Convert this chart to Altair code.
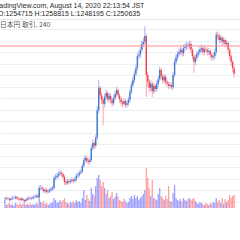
import altair as alt
import pandas as pd

# ---- data (prices in thousand JPY, 4h candles from 2020-07-17 16:00 JST) ----
first_open = 984
closes = [985, 986, 985, 983, 985, 986, 986, 988, 986, 985,
          983, 985, 983, 981, 983, 985, 986, 985, 986, 988,
          988, 990, 988, 1004, 1004, 1002, 998, 1000, 997, 998,
          1000, 1002, 1004, 1021, 1023, 1025, 1028, 1030, 1028, 1023,
          1014, 1012, 1016, 1014, 1016, 1018, 1016, 1019, 1025, 1026,
          1030, 1032, 1042, 1052, 1056, 1051, 1049, 1052, 1073, 1082,
          1077, 1091, 1139, 1178, 1165, 1157, 1150, 1162, 1169, 1158,
          1164, 1157, 1151, 1160, 1167, 1174, 1165, 1158, 1153, 1150,
          1155, 1148, 1151, 1157, 1171, 1183, 1191, 1202, 1212, 1233,
          1235, 1244, 1254, 1258, 1268, 1200, 1188, 1178, 1185, 1172,
          1181, 1176, 1185, 1193, 1209, 1198, 1191, 1197, 1188, 1185,
          1181, 1183, 1179, 1200, 1223, 1231, 1237, 1240, 1244, 1238,
          1247, 1249, 1252, 1251, 1254, 1244, 1233, 1223, 1230, 1237,
          1240, 1244, 1247, 1240, 1245, 1244, 1240, 1242, 1235, 1231,
          1233, 1240, 1270, 1268, 1261, 1265, 1258, 1261, 1254, 1256,
          1244, 1233, 1223, 1212, 1202]
highs = [988, 989, 988, 987, 987, 990, 989, 991, 990, 988,
         987, 988, 987, 985, 986, 988, 990, 989, 989, 991,
         992, 994, 992, 1008, 1009, 1007, 1005, 1004, 1003, 1002,
         1004, 1006, 1008, 1025, 1028, 1030, 1033, 1036, 1034, 1031,
         1026, 1018, 1020, 1019, 1020, 1022, 1021, 1023, 1029, 1031,
         1034, 1036, 1046, 1057, 1061, 1059, 1055, 1057, 1078, 1088,
         1086, 1096, 1146, 1192, 1181, 1170, 1162, 1167, 1175, 1172,
         1169, 1168, 1160, 1165, 1172, 1180, 1177, 1168, 1162, 1157,
         1160, 1158, 1156, 1162, 1176, 1189, 1197, 1208, 1218, 1239,
         1242, 1250, 1260, 1265, 1285, 1272, 1206, 1193, 1191, 1189,
         1186, 1185, 1190, 1199, 1215, 1213, 1202, 1202, 1201, 1192,
         1189, 1188, 1186, 1205, 1228, 1237, 1242, 1246, 1250, 1248,
         1253, 1255, 1258, 1257, 1260, 1258, 1247, 1237, 1235, 1242,
         1245, 1249, 1253, 1251, 1250, 1249, 1248, 1247, 1245, 1239,
         1238, 1245, 1275, 1276, 1272, 1270, 1268, 1266, 1264, 1261,
         1259, 1247, 1237, 1226, 1216]
lows = [981, 983, 982, 980, 981, 983, 984, 984, 983, 982,
        980, 981, 980, 978, 979, 981, 983, 982, 983, 984,
        985, 986, 985, 986, 1000, 999, 995, 995, 993, 994,
        995, 997, 999, 1001, 1017, 1019, 1021, 1024, 1024, 1019,
        1009, 1008, 1009, 1010, 1011, 1013, 1012, 1013, 1016, 1021,
        1023, 1027, 1029, 1039, 1048, 1046, 1044, 1045, 1049, 1069,
        1071, 1073, 1087, 1134, 1158, 1150, 1113, 1144, 1157, 1153,
        1153, 1151, 1145, 1147, 1156, 1163, 1160, 1152, 1147, 1144,
        1146, 1143, 1144, 1147, 1153, 1167, 1179, 1187, 1198, 1208,
        1228, 1230, 1240, 1249, 1253, 1162, 1180, 1170, 1172, 1162,
        1167, 1170, 1171, 1180, 1189, 1192, 1185, 1186, 1183, 1179,
        1176, 1177, 1174, 1175, 1196, 1218, 1226, 1232, 1235, 1232,
        1233, 1242, 1244, 1245, 1246, 1238, 1227, 1204, 1217, 1225,
        1232, 1235, 1239, 1234, 1235, 1238, 1234, 1235, 1229, 1225,
        1226, 1228, 1236, 1262, 1255, 1256, 1252, 1253, 1248, 1249,
        1238, 1227, 1216, 1205, 1195]
volumes = [8, 3, 4, 5, 3, 4, 2, 5, 4, 3,
           5, 3, 4, 6, 3, 4, 3, 5, 3, 4,
           3, 5, 4, 15, 6, 5, 7, 4, 5, 3,
           4, 5, 6, 10, 8, 5, 6, 8, 6, 8,
           10, 6, 5, 4, 6, 5, 7, 5, 8, 6,
           7, 5, 10, 18, 8, 13, 9, 7, 20, 14,
           12, 22, 30, 33, 28, 22, 26, 20, 14, 18,
           10, 12, 16, 9, 11, 15, 12, 8, 7, 6,
           9, 7, 5, 6, 10, 12, 9, 13, 10, 12,
           8, 10, 12, 14, 18, 40, 30, 20, 12, 28,
           10, 9, 8, 14, 20, 12, 10, 8, 12, 9,
           22, 7, 6, 15, 23, 10, 8, 7, 9, 6,
           10, 8, 7, 9, 10, 8, 9, 10, 7, 5,
           4, 6, 5, 4, 3, 5, 4, 3, 5, 4,
           6, 5, 10, 6, 8, 5, 10, 4, 9, 6,
           8, 13, 10, 12, 13]
last_price = 1250.635
x_tick_days = [4, 8, 11.5, 15, 19, 23]
x_tick_labels = ["21", "25", "12:00", "8月", "5", "9"]
grid_prices = list(range(980, 1281, 20))
header1 = "TradingView.com, August 14, 2020 22:13:54 JST"
header2 = "O:1254715 H:1258815 L:1248195 C:1250635"
header3 = "日本円 取引, 240"

opens = [first_open] + closes[:-1]
rows = []
for i, (o, c, h, l, v) in enumerate(zip(opens, closes, highs, lows, volumes)):
    rows.append(dict(t=0.667 + i / 6.0, o=o, c=c, h=h, l=l, v=v,
                     dir="up" if c >= o else "down"))
df = pd.DataFrame(rows)

W, H = 240, 208
x_scale = alt.Scale(domain=[0.672, 26.435], nice=False, zero=False)
p_scale = alt.Scale(domain=[968.9, 1330.6], nice=False, zero=False)
v_scale = alt.Scale(domain=[0, 208], nice=False, zero=True)

label_expr = ""
for val, lab in zip(x_tick_days, x_tick_labels):
    label_expr += f"datum.value == {val} ? '{lab}' : "
label_expr += "''"

x_axis = alt.Axis(values=x_tick_days, labelExpr=label_expr, grid=True,
                  gridColor="#eaeff4", gridWidth=1, ticks=False,
                  domainColor="#9aa0a8", domainWidth=1, labelFontSize=6.5,
                  labelColor="#4a4a4a", labelPadding=3, title=None,
                  labelFont="Liberation Sans")
y_axis = alt.Axis(values=grid_prices, orient="right", grid=True,
                  gridColor="#eaeff4", gridWidth=1, labels=False,
                  ticks=False, domain=False, title=None)

base = alt.Chart(df)

vol = base.mark_bar(size=1.3, opacity=0.75).encode(
    x=alt.X("t:Q", scale=x_scale, axis=x_axis),
    y=alt.Y("v:Q", scale=v_scale, axis=None),
    color=alt.Color("dir:N", scale=alt.Scale(domain=["up", "down"],
                    range=["#8080ff", "#ff7f7f"]), legend=None),
)

wick = base.mark_rule(strokeWidth=0.9).encode(
    x=alt.X("t:Q", scale=x_scale, axis=None),
    y=alt.Y("l:Q", scale=p_scale, axis=y_axis),
    y2="h:Q",
    color=alt.Color("dir:N", scale=alt.Scale(domain=["up", "down"],
                    range=["#a4a4ff", "#ff9c9c"]), legend=None),
)

body = base.mark_bar(size=1.4).encode(
    x=alt.X("t:Q", scale=x_scale, axis=None),
    y=alt.Y("o:Q", scale=p_scale, axis=None),
    y2="c:Q",
    color=alt.Color("dir:N", scale=alt.Scale(domain=["up", "down"],
                    range=["#3f7dc6", "#f2434b"]), legend=None),
)

price_line = alt.Chart(pd.DataFrame({"p": [last_price]})).mark_rule(
    color="#ff8a8a", strokeWidth=1).encode(
    y=alt.Y("p:Q", scale=p_scale, axis=None))

# white header band (hides grid above the pane), with a pane separator
header_bg = alt.Chart(pd.DataFrame({"a": [0]})).mark_rect(
    color="white").encode(
    x=alt.value(0), x2=alt.value(W), y=alt.value(0), y2=alt.value(19))
sep = alt.Chart(pd.DataFrame({"a": [0]})).mark_rule(
    color="#e4e7ec", strokeWidth=1).encode(
    x=alt.value(0), x2=alt.value(W), y=alt.value(19.5))

t1 = alt.Chart(pd.DataFrame({"s": [header1]})).mark_text(
    align="left", baseline="middle", fontSize=7, color="#2a2a2a",
    font="Liberation Sans").encode(
    text="s:N", x=alt.value(-7), y=alt.value(6))
t2 = alt.Chart(pd.DataFrame({"s": [header2]})).mark_text(
    align="left", baseline="middle", fontSize=7, color="#2a2a2a",
    font="Liberation Sans").encode(
    text="s:N", x=alt.value(-2), y=alt.value(13.5))
t3 = alt.Chart(pd.DataFrame({"s": [header3]})).mark_text(
    align="left", baseline="middle", fontSize=6.8, color="#555555",
    font="Noto Sans CJK JP").encode(
    text="s:N", x=alt.value(0), y=alt.value(25))

chart = alt.layer(vol, wick, body, price_line, header_bg, sep, t1, t2, t3
).resolve_scale(
    y="independent", color="independent"
).properties(
    width=W, height=H,
    autosize=alt.AutoSizeParams(type="none"),
    padding={"left": 0, "top": 0, "right": 0, "bottom": 240 - H},
    background="white",
).configure_view(stroke=None)

chart.save("out.html", embed_options={"renderer": "svg", "actions": False})
